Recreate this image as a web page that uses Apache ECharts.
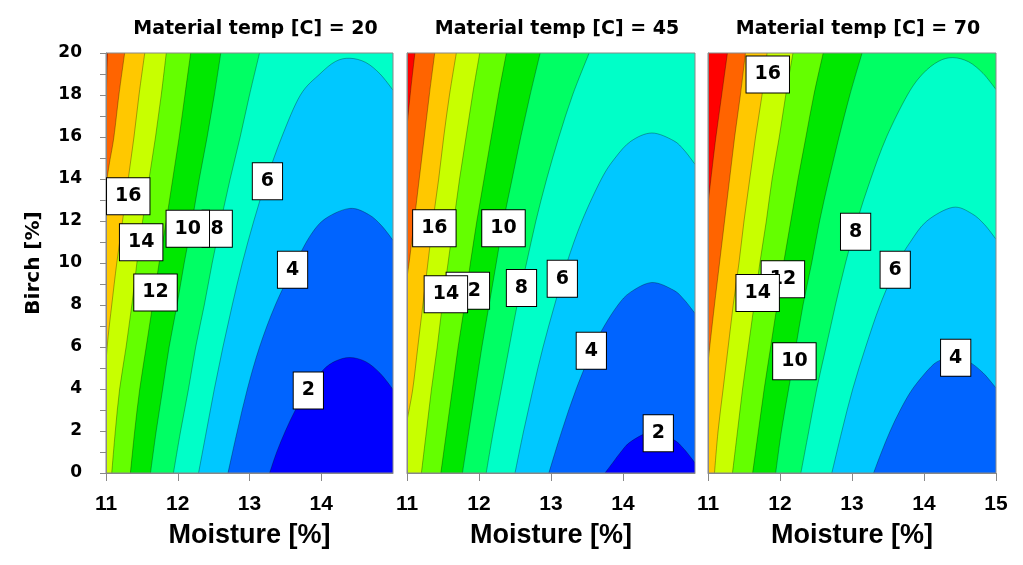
<!DOCTYPE html>
<html><head><meta charset="utf-8">
<script src="https://cdn.jsdelivr.net/npm/echarts@6/dist/echarts.min.js"></script>
<style>html,body{margin:0;padding:0;background:#fff}#c{width:1023px;height:565px}</style>
</head><body><div id="c"></div>
<script>
// ---------- data ----------
const panelTitles = ['Material temp [C] = 20', 'Material temp [C] = 45', 'Material temp [C] = 70'];
const xName = 'Moisture [%]';
const yName = 'Birch [%]';
const xRange = [11, 15];
const yRange = [0, 20];

// contour lines: [moisture, birch] points, temp 20
const c20_20 = [[11.02,20],[11.01,18.7],[11.0,17.5]];
const c20_18 = [[11.26,20],[11.18,18],[11.11,16],[11.05,14.8],[11.0,13.7]];
const c20_16 = [[11.54,20],[11.46,18],[11.39,16],[11.31,14],[11.23,12],[11.15,10],[11.08,8],[11.03,6.5],[11.0,5.3]];
const c20_14 = [[11.84,20],[11.77,18],[11.69,16],[11.60,14],[11.51,12],[11.43,10],[11.36,8],[11.28,6],[11.19,4],[11.13,2],[11.08,0]];
const c20_12 = [[12.18,20],[12.10,18],[12.02,16],[11.93,14],[11.84,12],[11.74,10],[11.65,8],[11.56,6],[11.47,4],[11.40,2],[11.34,0]];
const c20_10 = [[12.60,20],[12.51,18],[12.41,16],[12.30,14],[12.20,12],[12.09,10],[11.99,8],[11.88,6],[11.79,4],[11.70,2],[11.62,0]];
const c20_8  = [[13.14,20],[13.00,18],[12.87,16],[12.73,14],[12.60,12],[12.48,10],[12.37,8],[12.25,6],[12.15,4],[12.04,2],[11.94,0]];
const c20_6  = [[12.29,0],[12.40,2],[12.51,4],[12.63,6],[12.76,8],[12.90,10],[13.06,12],[13.24,14],[13.45,16],[13.71,18],[13.98,19.0],[14.2,19.6],[14.4,19.75],[14.62,19.55],[14.82,19.0],[15.0,18.23]];
const c20_4  = [[12.70,0],[12.83,2],[12.97,4],[13.14,6],[13.36,8],[13.64,10],[13.86,11.37],[14.07,12.14],[14.4,12.6],[14.66,12.31],[14.84,11.78],[15.0,11.08]];
const c20_2  = [[13.28,0],[13.38,1],[13.50,2],[13.64,3],[13.81,4],[14.03,4.92],[14.2,5.33],[14.4,5.5],[14.62,5.3],[14.82,4.75],[15.0,3.98]];

// temp 45
const c45_20 = [[11.11,20],[11.05,18.2],[11.0,16.5]];
const c45_18 = [[11.385,20],[11.31,18],[11.24,16],[11.17,14],[11.10,12],[11.04,10.3],[11.0,9.3]];
const c45_16 = [[11.685,20],[11.59,18],[11.51,16],[11.44,14],[11.36,12],[11.29,10],[11.22,8],[11.15,6],[11.08,4],[11.0,2.5]];
const c45_14 = [[12.01,20],[11.91,18],[11.82,16],[11.73,14],[11.65,12],[11.57,10],[11.49,8],[11.42,6],[11.34,4],[11.27,2],[11.20,0]];
const c45_12 = [[12.38,20],[12.27,18],[12.17,16],[12.07,14],[11.97,12],[11.88,10],[11.80,8],[11.71,6],[11.63,4],[11.55,2],[11.47,0]];
const c45_10 = [[12.85,20],[12.71,18],[12.58,16],[12.46,14],[12.34,12],[12.24,10],[12.14,8],[12.04,6],[11.95,4],[11.86,2],[11.77,0]];
const c45_8  = [[13.53,20],[13.30,18],[13.11,16],[12.94,14],[12.79,12],[12.66,10],[12.53,8],[12.42,6],[12.31,4],[12.20,2],[12.10,0]];
const c45_6  = [[12.50,0],[12.62,2],[12.75,4],[12.89,6],[13.05,8],[13.22,10],[13.43,12],[13.70,14],[13.89,15],[14.11,15.8],[14.4,16.19],[14.70,15.83],[14.85,15.37],[15.0,14.70]];
const c45_4  = [[12.97,0],[13.15,2],[13.35,4],[13.59,6],[13.74,7],[13.93,8],[14.10,8.6],[14.4,9.07],[14.7,8.71],[14.85,8.25],[15.0,7.60]];
const c45_2  = [[13.75,0],[13.86,0.5],[13.97,1],[14.11,1.5],[14.4,1.95],[14.7,1.59],[14.85,1.13],[15.0,0.48]];

// temp 70
const c70_20 = [[11.27,20],[11.19,18],[11.11,16],[11.04,14],[11.0,12.8]];
const c70_18 = [[11.52,20],[11.45,18],[11.37,16],[11.30,14],[11.23,12],[11.16,10],[11.09,8],[11.04,6.5],[11.0,5.25]];
const c70_16 = [[11.82,20],[11.75,18],[11.66,16],[11.58,14],[11.50,12],[11.43,10],[11.35,8],[11.28,6],[11.21,4],[11.14,2],[11.09,0]];
const c70_14 = [[12.18,20],[12.08,18],[11.99,16],[11.89,14],[11.81,12],[11.72,10],[11.64,8],[11.56,6],[11.48,4],[11.41,2],[11.34,0]];
const c70_12 = [[12.60,20],[12.47,18],[12.36,16],[12.25,14],[12.15,12],[12.05,10],[11.96,8],[11.87,6],[11.78,4],[11.70,2],[11.62,0]];
const c70_10 = [[13.14,20],[12.97,18],[12.82,16],[12.68,14],[12.55,12],[12.44,10],[12.32,8],[12.22,6],[12.12,4],[12.02,2],[11.94,0]];
const c70_8  = [[12.29,0],[12.40,2],[12.51,4],[12.64,6],[12.77,8],[12.91,10],[13.07,12],[13.26,14],[13.48,16],[13.77,18],[13.98,19.0],[14.2,19.6],[14.4,19.78],[14.62,19.58],[14.82,19.03],[15.0,18.26]];
const c70_6  = [[12.72,0],[12.86,2],[13.01,4],[13.19,6],[13.39,8],[13.64,10],[13.81,11],[14.04,12],[14.4,12.65],[14.66,12.36],[14.84,11.83],[15.0,11.13]];
const c70_4  = [[13.30,0],[13.41,1],[13.53,2],[13.67,3],[13.84,4],[14.08,5.0],[14.22,5.36],[14.4,5.5],[14.62,5.3],[14.82,4.77],[15.0,4.05]];

// contour label positions [moisture, birch, text]
const labels20 = [[11.31,13.18,'16'],[11.49,10.99,'14'],[11.69,8.6,'12'],[12.55,11.63,'8'],[12.14,11.63,'10'],[13.25,13.89,'6'],[13.60,9.68,'4'],[13.82,3.93,'2']];
const labels45 = [[11.38,11.65,'16'],[12.34,11.65,'10'],[11.845,8.68,'12'],[11.54,8.51,'14'],[12.59,8.81,'8'],[13.157,9.25,'6'],[13.56,5.82,'4'],[14.49,1.89,'2']];
const labels70 = [[11.83,18.98,'16'],[12.04,9.23,'12'],[11.69,8.57,'14'],[12.20,5.32,'10'],[13.05,11.49,'8'],[13.60,9.68,'6'],[14.44,5.49,'4']];

// levels per panel (highest first)
const levels20 = [20,18,16,14,12,10,8,6,4,2];
const levels45 = [20,18,16,14,12,10,8,6,4,2];
const levels70 = [20,18,16,14,12,10,8,6,4];
const lines20 = [c20_20,c20_18,c20_16,c20_14,c20_12,c20_10,c20_8,c20_6,c20_4,c20_2];
const lines45 = [c45_20,c45_18,c45_16,c45_14,c45_12,c45_10,c45_8,c45_6,c45_4,c45_2];
const lines70 = [c70_20,c70_18,c70_16,c70_14,c70_12,c70_10,c70_8,c70_6,c70_4];

// ---------- style ----------
const bandColors = {0:'#0000ff',2:'#0064ff',4:'#00c8ff',6:'#00ffc8',8:'#00ff64',10:'#00e800',12:'#64ff00',14:'#c8ff00',16:'#ffc800',18:'#ff6400',20:'#ff0000',22:'#c00000'};
const lineColor = 'rgba(0,0,0,0.3)';
const axisGray = '#888888';
const VERD = "'DejaVu Sans', Verdana, sans-serif";
const ARIAL = "'Liberation Sans', Arial, sans-serif";

const grids = [
  {left:106, top:53, width:287, height:420},
  {left:407, top:53, width:288, height:420},
  {left:708, top:53, width:288, height:420}
];
const panels = [
  {levels:levels20, lines:lines20, labels:labels20},
  {levels:levels45, lines:lines45, labels:labels45},
  {levels:levels70, lines:lines70, labels:labels70}
];

function bezierPath(px) {
  let d = 'M' + px[0][0] + ' ' + px[0][1];
  for (let i = 0; i < px.length - 1; i++) {
    const p0 = px[i-1] || px[i], p1 = px[i], p2 = px[i+1], p3 = px[i+2] || px[i+1];
    const c1x = p1[0] + (p2[0]-p0[0])/6, c1y = p1[1] + (p2[1]-p0[1])/6;
    const c2x = p2[0] - (p3[0]-p1[0])/6, c2y = p2[1] - (p3[1]-p1[1])/6;
    d += ' C' + c1x + ' ' + c1y + ' ' + c2x + ' ' + c2y + ' ' + p2[0] + ' ' + p2[1];
  }
  return d;
}

function makeRender(panel) {
  return function (params, api) {
    const k = api.value(2);
    if (k < 0) {
      const a = api.coord([xRange[0], yRange[1]]), b = api.coord([xRange[1], yRange[0]]);
      return {type:'rect', shape:{x:a[0], y:a[1], width:b[0]-a[0], height:b[1]-a[1]},
              style:{fill: bandColors[panel.levels[0]]}};
    }
    const lvl = panel.levels[k];
    const pts = panel.lines[k];
    const first = pts[0], last = pts[pts.length-1];
    const closing = [];
    if (last[0] <= xRange[0] + 0.001) closing.push([xRange[0]-0.5, last[1]], [xRange[0]-0.5, -2]);
    else if (last[1] <= 0.001) closing.push([last[0], -2]);
    else closing.push([xRange[1]+1, last[1]]);
    closing.push([xRange[1]+1, -2]);
    if (first[1] >= yRange[1] - 0.001) closing.push([xRange[1]+1, yRange[1]+2], [first[0], yRange[1]+2]);
    else closing.push([first[0], -2]);
    const px = pts.map(p => api.coord(p));
    const cpx = closing.map(p => api.coord(p));
    const curve = bezierPath(px);
    let fillD = curve;
    cpx.forEach(p => { fillD += ' L' + p[0] + ' ' + p[1]; });
    fillD += ' Z';
    return {type:'group', children:[
      {type:'path', shape:{pathData: fillD}, style:{fill: bandColors[lvl-2], stroke:null}},
      {type:'path', shape:{pathData: curve}, style:{fill:null, stroke: lineColor, lineWidth:1}}
    ]};
  };
}

const option = {
  animation: false,
  backgroundColor: '#ffffff',
  title: panelTitles.map((t, i) => ({
    text: t, left: grids[i].left + grids[i].width/2 + 1, top: 15, textAlign: 'center',
    textStyle: {fontFamily: VERD, fontWeight: 'bold', fontSize: 19, color: '#000'}
  })),
  grid: grids.map(g => Object.assign({show:true, borderColor:axisGray, borderWidth:1, backgroundColor:'transparent', z:6}, g)),
  xAxis: grids.map((g, i) => ({
    gridIndex: i, type: 'value', min: xRange[0], max: xRange[1], interval: 1, z: 7,
    axisLine: {show: true, onZero: false, lineStyle: {color: axisGray}},
    axisTick: {show: true, length: 8, lineStyle: {color: axisGray}},
    axisLabel: {show: true, showMaxLabel: i === 2, margin: 21, color: '#000', fontFamily: ARIAL, fontWeight: 'bold', fontSize: 21},
    splitLine: {show: false},
    name: xName, nameLocation: 'middle', nameGap: 49,
    nameTextStyle: {fontFamily: ARIAL, fontWeight: 'bold', fontSize: 27, color: '#000'}
  })),
  yAxis: grids.map((g, i) => ({
    gridIndex: i, type: 'value', min: yRange[0], max: yRange[1], interval: 2, z: 7,
    axisLine: {show: true, onZero: false, lineStyle: {color: axisGray}},
    axisTick: {show: i === 0, length: 6, lineStyle: {color: axisGray}},
    minorTick: {show: i === 0, splitNumber: 2, length: 6, lineStyle: {color: axisGray}},
    axisLabel: {show: i === 0, margin: 24, color: '#000', fontFamily: VERD, fontWeight: 'bold', fontSize: 17},
    splitLine: {show: false},
    name: i === 0 ? yName : '', nameLocation: 'middle', nameGap: 62,
    nameTextStyle: {fontFamily: VERD, fontWeight: 'bold', fontSize: 20, color: '#000'}
  })),
  series: []
};

panels.forEach((p, i) => {
  const items = [[xRange[0], yRange[0], -1]].concat(p.levels.map((l, k) => [xRange[0], yRange[0], k]));
  option.series.push({
    type: 'custom', xAxisIndex: i, yAxisIndex: i, clip: true, z: 2, silent: true,
    renderItem: makeRender(p), data: items
  });
  option.series.push({
    type: 'scatter', xAxisIndex: i, yAxisIndex: i, z: 10, silent: true,
    symbolSize: 1, itemStyle: {color: 'rgba(0,0,0,0)', opacity: 1},
    data: p.labels.map(l => ({name: l[2], value: [l[0], l[1]]})),
    label: {show: true, position: 'inside', formatter: '{b}', color: '#000', opacity: 1,
      fontFamily: VERD, fontWeight: 'bold', fontSize: 19, lineHeight: 20,
      backgroundColor: '#fff', borderColor: '#000', borderWidth: 1, padding: [8, 8, 8, 8]}
  });
});

const chart = echarts.init(document.getElementById('c'), null, {renderer: 'canvas'});
chart.setOption(option);
</script></body></html>
